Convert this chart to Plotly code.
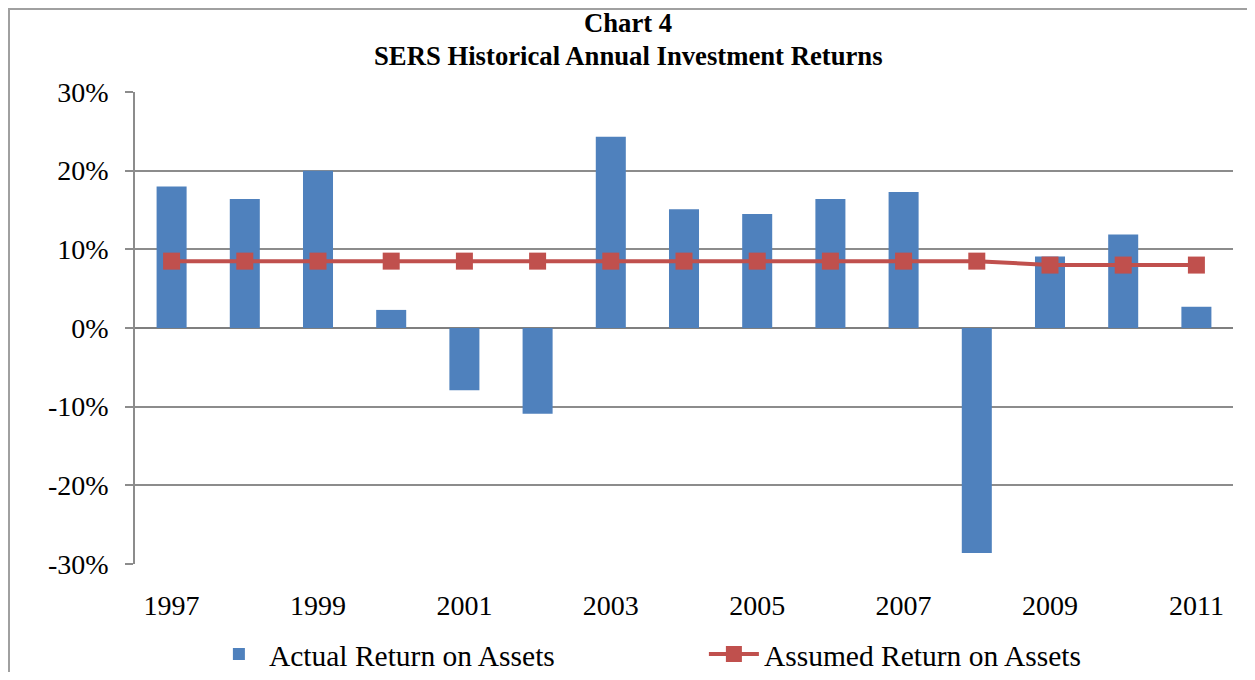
import plotly.graph_objects as go

years = list(range(1997, 2012))
actual = [18.0, 16.4, 20.0, 2.3, -7.9, -10.9, 24.3, 15.1, 14.5, 16.4, 17.3, -28.6, 9.1, 11.9, 2.7]
assumed = [8.5, 8.5, 8.5, 8.5, 8.5, 8.5, 8.5, 8.5, 8.5, 8.5, 8.5, 8.5, 8.0, 8.0, 8.0]
yticks = [-30, -20, -10, 0, 10, 20, 30]
ytick_labels = [f"{v}%" for v in yticks]
xticks = [1997, 1999, 2001, 2003, 2005, 2007, 2009, 2011]
title_lines = ["Chart 4", "SERS Historical Annual Investment Returns"]

FONT = "Liberation Serif, Times New Roman, serif"

# page is offset by the 8px body margin; plot area in page px: x 135..1233, y 92..564
PW, PH = 1098, 472

fig = go.Figure()
fig.add_trace(go.Bar(
    x=years, y=actual, name="Actual Return on Assets",
    marker=dict(color="#4F81BD", line=dict(width=0)),
))
fig.add_trace(go.Scatter(
    x=years, y=assumed, name="Assumed Return on Assets",
    mode="lines+markers",
    line=dict(color="#C0504D", width=4),
    marker=dict(symbol="square", size=17, color="#C0504D"),
))

annotations = []
for txt, ypix in zip(title_lines, [23, 56]):
    annotations.append(dict(
        text=f"<b>{txt}</b>", xref="paper", yref="paper",
        x=(628 - 135) / PW, y=(564 - ypix) / PH,
        xanchor="center", yanchor="middle", showarrow=False,
        font=dict(family=FONT, size=26.7, color="black"),
    ))

# outer chart border (left, top, right), open at the bottom like the reference crop
bx0, bx1 = (9 - 135) / PW, (1253 - 135) / PW
by_top, by_bot = (564 - 9) / PH, (564 - 700) / PH
border = dict(
    type="path", xref="paper", yref="paper",
    path=f"M {bx0} {by_bot} L {bx0} {by_top} L {bx1} {by_top} L {bx1} {by_bot}",
    line=dict(color="#A0A0A0", width=2), layer="below",
)

fig.update_layout(
    width=1247, height=664,
    margin=dict(l=127, r=22, t=84, b=108, autoexpand=False),
    paper_bgcolor="white", plot_bgcolor="white",
    bargap=0.59,
    font=dict(family=FONT, size=28, color="black"),
    showlegend=True,
    legend=dict(
        orientation="h", x=0.0673, xanchor="left", y=-0.1364, yanchor="top",
        font=dict(family=FONT, size=29.5, color="black"),
        entrywidth=430, itemwidth=50,
        bgcolor="rgba(0,0,0,0)",
    ),
    xaxis=dict(
        range=[1996.5, 2011.5], tickvals=xticks, ticktext=[str(v) for v in xticks],
        showgrid=False, zeroline=False, showline=False, ticks="",
        tickfont=dict(size=28), ticklabelstandoff=22, automargin=False,
    ),
    yaxis=dict(
        range=[-30, 30], tickvals=yticks, ticktext=ytick_labels,
        showgrid=True, gridcolor="#8C8C8C", gridwidth=1.5,
        zeroline=True, zerolinecolor="#7F7F7F", zerolinewidth=2,
        showline=True, linecolor="#8C8C8C", linewidth=1.5,
        ticks="outside", ticklen=8, tickcolor="#8C8C8C", tickwidth=1.5,
        tickfont=dict(size=28), ticklabelstandoff=11, automargin=False,
    ),
    annotations=annotations,
    shapes=[border],
)

fig.write_html("out.html")
